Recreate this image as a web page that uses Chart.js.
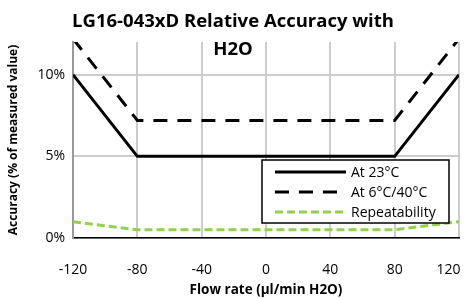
<!DOCTYPE html>
<html>
<head>
<meta charset="utf-8">
<script src="https://cdn.jsdelivr.net/npm/chart.js@4"></script>
<style>
  html, body { margin: 0; padding: 0; background: #fff; }
  #wrap { width: 467px; height: 298px; }
</style>
</head>
<body>
<div id="wrap"><canvas id="acc"></canvas></div>
<script>
// flow rate points (µl/min H2O)
var flowRates = [-120, -80, 80, 120];
var at23 = [10, 5, 5, 10];
var at6to40 = [12.2, 7.2, 7.2, 12.2];
var repeatability = [1, 0.5, 0.5, 1];
var xTicks = [-120, -80, -40, 0, 40, 80, 120];
var yTicks = [0, 5, 10];
var seriesNames = ['At 23°C', 'At 6°C/40°C', 'Repeatability'];
var titleLines = ['LG16-043xD Relative Accuracy with', 'H2O'];

var FONT = "'Open Sans', 'Liberation Sans', sans-serif";

function pts(ys){
    return flowRates.map(function(x, i){ return {x: x, y: ys[i]}; });
}

// title + legend drawn on top of the chart area, like the excel original
var overlay = {
    id: 'overlay',
    afterDraw: function(chart){
        var ctx = chart.ctx;
        ctx.save();
        ctx.fillStyle = '#000';
        ctx.font = 'bold 18.5px ' + FONT;
        ctx.textAlign = 'center';
        ctx.textBaseline = 'middle';
        ctx.fillText(titleLines[0], 233, 22);
        ctx.fillText(titleLines[1], 233, 50);

        // legend box
        ctx.fillStyle = '#fff';
        ctx.fillRect(262, 160, 187, 63);
        ctx.strokeStyle = '#000';
        ctx.lineWidth = 1.5;
        ctx.strokeRect(262, 160, 187, 63);
        var ds = chart.data.datasets;
        ctx.textAlign = 'left';
        ctx.font = '14px ' + FONT;
        for (var i = 0; i < ds.length; i++){
            var y = 172 + i * 20;
            ctx.beginPath();
            ctx.setLineDash(ds[i].borderDash || []);
            ctx.strokeStyle = ds[i].borderColor;
            ctx.lineWidth = ds[i].borderWidth;
            ctx.moveTo(275, y);
            ctx.lineTo(346, y);
            ctx.stroke();
            ctx.setLineDash([]);
            ctx.fillStyle = '#000';
            ctx.fillText(seriesNames[i], 351, y + 1);
        }
        ctx.restore();
    }
};

new Chart(document.getElementById('acc'), {
    type: 'line',
    data: {
        datasets: [{
            label: seriesNames[0],
            data: pts(at23),
            borderColor: '#000',
            borderWidth: 3,
            pointRadius: 0,
            clip: 0
        }, {
            label: seriesNames[1],
            data: pts(at6to40),
            borderColor: '#000',
            borderWidth: 3,
            borderDash: [14, 10],
            pointRadius: 0,
            clip: 0
        }, {
            label: seriesNames[2],
            data: pts(repeatability),
            borderColor: '#92D050',
            borderWidth: 3,
            borderDash: [8, 4],
            pointRadius: 0,
            clip: 0
        }]
    },
    options: {
        responsive: true,
        maintainAspectRatio: false,
        animation: false,
        layout: { padding: { left: 0, right: 8, top: 42, bottom: 0 } },
        plugins: {
            legend: { display: false },
            title: { display: false },
            tooltip: { enabled: false }
        },
        scales: {
            x: {
                type: 'linear',
                min: xTicks[0],
                max: xTicks[xTicks.length - 1],
                afterFit: function(scale){
                    scale.height = 60;
                    scale.paddingLeft = 0;
                    scale.paddingRight = 0;
                },
                grid: { color: '#cccccc', lineWidth: 2, tickLength: 0 },
                border: { color: '#000', width: 1.5 },
                ticks: {
                    stepSize: 40,
                    color: '#000',
                    padding: 24,
                    maxRotation: 0,
                    font: { family: FONT, size: 14 },
                    // excel pulls the last label inside the canvas
                    callback: function(v){ return v === 120 ? v + '\u2002\u2002\u2002' : String(v); }
                },
                title: {
                    display: true,
                    text: 'Flow rate (µl/min H2O)',
                    color: '#000',
                    font: { family: FONT, size: 13.5, weight: 'bold' },
                    padding: { top: 0, bottom: 0 }
                }
            },
            y: {
                min: 0,
                max: 12,
                afterFit: function(scale){
                    scale.width = 73;
                    scale.paddingTop = 0;
                    scale.paddingBottom = 0;
                },
                grid: { color: '#cccccc', lineWidth: 2, tickLength: 0 },
                border: { color: '#999999', width: 2 },
                ticks: {
                    stepSize: 5,
                    includeBounds: false,
                    color: '#000',
                    padding: 8,
                    font: { family: FONT, size: 14 },
                    callback: function(v){ return yTicks.indexOf(v) < 0 ? '' : v + '%'; }
                },
                title: {
                    display: true,
                    text: 'Accuracy (% of measured value)',
                    color: '#000',
                    font: { family: FONT, size: 12, weight: 'bold' },
                    padding: { top: 6, bottom: 4 }
                }
            }
        }
    },
    plugins: [overlay]
});
</script>
</body>
</html>
